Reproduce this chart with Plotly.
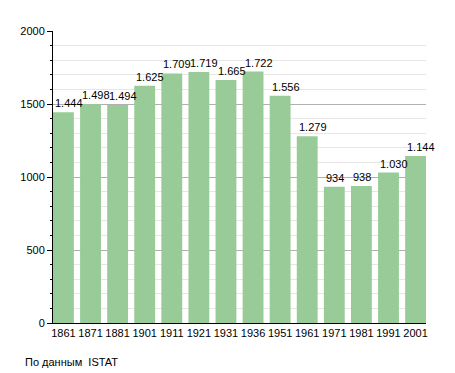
import plotly.graph_objects as go

years = ["1861", "1871", "1881", "1901", "1911", "1921", "1931", "1936",
         "1951", "1961", "1971", "1981", "1991", "2001"]
population = [1444, 1498, 1494, 1625, 1709, 1719, 1665, 1722,
              1556, 1279, 934, 938, 1030, 1144]

# page body has an 8px margin, so the figure is shrunk/shifted accordingly
W, H = 447, 365
L, R, T, B = 42, 29, 23, 50
plot_w = W - L - R
plot_h = H - T - B
GAP = 0.23
half = (1 - GAP) / 2
FONT = "Liberation Sans, Arial, sans-serif"

fig = go.Figure()
fig.add_trace(go.Bar(
    x=years, y=population,
    marker=dict(color="#98CB98", line=dict(width=0)),
    hoverinfo="x+y",
))

annotations = []
for i, v in enumerate(population):
    annotations.append(dict(
        x=i - half, y=v, xref="x", yref="y",
        text=f"{v:,}".replace(",", "."),
        showarrow=False, xanchor="left", yanchor="bottom", yshift=1,
        font=dict(family=FONT, size=11, color="black"),
    ))
annotations.append(dict(
    text="По данным  ISTAT",
    x=(12 - L) / plot_w,
    y=1 - (354 - T) / plot_h,
    xref="paper", yref="paper",
    showarrow=False, xanchor="left", yanchor="middle",
    font=dict(family=FONT, size=11, color="black"),
))

fig.update_layout(
    width=W, height=H,
    margin=dict(l=L, r=R, t=T, b=B),
    paper_bgcolor="white", plot_bgcolor="white",
    bargap=GAP,
    showlegend=False,
    font=dict(family=FONT, size=11, color="black"),
    xaxis=dict(
        type="category", showline=True, linecolor="black", linewidth=1,
        range=[-half, len(years) - 1 + half],
        ticks="", showgrid=False, tickfont=dict(size=11),
    ),
    yaxis=dict(
        range=[0, 2000], dtick=500, showline=True, linecolor="black", linewidth=1,
        ticks="outside", ticklen=5, tickcolor="black",
        gridcolor="#b0b0b0", gridwidth=1, zeroline=False,
        minor=dict(dtick=100, showgrid=True, gridcolor="#e6e6e6",
                   ticks="outside", ticklen=2, tickcolor="black"),
        tickfont=dict(size=11),
    ),
    annotations=annotations,
)

fig.write_html("out.html")
